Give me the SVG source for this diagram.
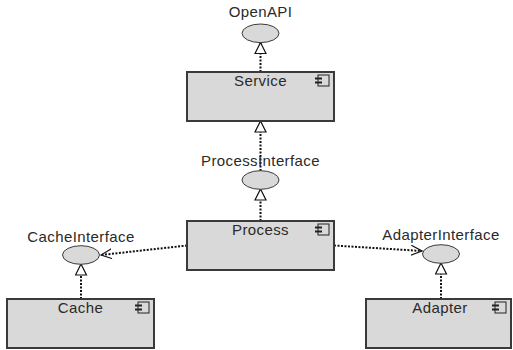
<svg xmlns="http://www.w3.org/2000/svg" width="513" height="350" viewBox="0 0 513 350">
  <defs>
    <style>
      .box { fill: #d9d9d9; stroke: #3a3a3a; stroke-width: 2; }
      .iface { fill: #d9d9d9; stroke: #3a3a3a; stroke-width: 1; }
      .label { font-family: "Liberation Sans", Arial, sans-serif; font-size: 15px; fill: #2a2a2a; text-anchor: middle; letter-spacing: 0.4px; }
      .icon { fill: #d9d9d9; stroke: #222; stroke-width: 1; }
      .tab { fill: #222; }
      .dep { fill: none; stroke: #111; stroke-width: 2; stroke-dasharray: 2 1.5; }
    </style>
    <marker id="realize" viewBox="0 0 12 13" refX="11.5" refY="6.5" markerWidth="12" markerHeight="13" markerUnits="userSpaceOnUse" orient="auto">
      <path d="M11.5,6.5 L0.5,1 L0.5,12 Z" fill="#fff" stroke="#111" stroke-width="1.2"/>
    </marker>
    <marker id="open" viewBox="0 0 12 12" refX="11" refY="6" markerWidth="12" markerHeight="12" markerUnits="userSpaceOnUse" orient="auto">
      <path d="M0,1 L11,6 L0,11" fill="none" stroke="#111" stroke-width="1.2"/>
    </marker>
    <g id="compIcon">
      <rect class="icon" x="3" y="0" width="11" height="11"/>
      <rect class="tab" x="0" y="2.5" width="7" height="2"/>
      <rect class="tab" x="0" y="6.5" width="7" height="2"/>
    </g>
  </defs>

  <!-- connectors -->
  <g id="connectors">
    <line class="dep" x1="260.5" y1="72" x2="260.5" y2="42.5" marker-end="url(#realize)"/>
    <line class="dep" x1="260.5" y1="171" x2="260.5" y2="121" marker-end="url(#realize)"/>
    <line class="dep" x1="260.5" y1="221" x2="260.5" y2="189" marker-end="url(#realize)"/>
    <line class="dep" x1="81" y1="299" x2="81" y2="264" marker-end="url(#realize)"/>
    <line class="dep" x1="441" y1="299" x2="441" y2="263" marker-end="url(#realize)"/>
    <line class="dep" x1="187" y1="245.5" x2="101" y2="255" marker-end="url(#open)"/>
    <line class="dep" x1="334" y1="245.5" x2="422" y2="251" marker-end="url(#open)"/>
  </g>

  <!-- interfaces -->
  <g id="OpenAPI">
    <ellipse class="iface" cx="260.5" cy="33.3" rx="18.5" ry="9.3"/>
    <text class="label" x="260.5" y="17">OpenAPI</text>
  </g>
  <g id="ProcessInterface">
    <ellipse class="iface" cx="260.5" cy="180" rx="18.5" ry="9.3"/>
    <text class="label" x="260.5" y="166">ProcessInterface</text>
  </g>
  <g id="CacheInterface">
    <ellipse class="iface" cx="81" cy="255" rx="18.5" ry="9.3"/>
    <text class="label" x="81" y="242">CacheInterface</text>
  </g>
  <g id="AdapterInterface">
    <ellipse class="iface" cx="441" cy="254" rx="18.5" ry="9.3"/>
    <text class="label" x="441" y="240">AdapterInterface</text>
  </g>

  <!-- components -->
  <g id="Service">
    <rect class="box" x="187" y="72" width="147" height="49"/>
    <text class="label" x="260.5" y="86">Service</text>
    <use href="#compIcon" x="315" y="75"/>
  </g>
  <g id="Process">
    <rect class="box" x="187" y="221" width="147" height="49"/>
    <text class="label" x="260.5" y="235">Process</text>
    <use href="#compIcon" x="315" y="224"/>
  </g>
  <g id="Cache">
    <rect class="box" x="7" y="299" width="147" height="49"/>
    <text class="label" x="80.5" y="313">Cache</text>
    <use href="#compIcon" x="135" y="302"/>
  </g>
  <g id="Adapter">
    <rect class="box" x="366" y="299" width="145" height="49"/>
    <text class="label" x="440" y="313">Adapter</text>
    <use href="#compIcon" x="492" y="302"/>
  </g>
</svg>
